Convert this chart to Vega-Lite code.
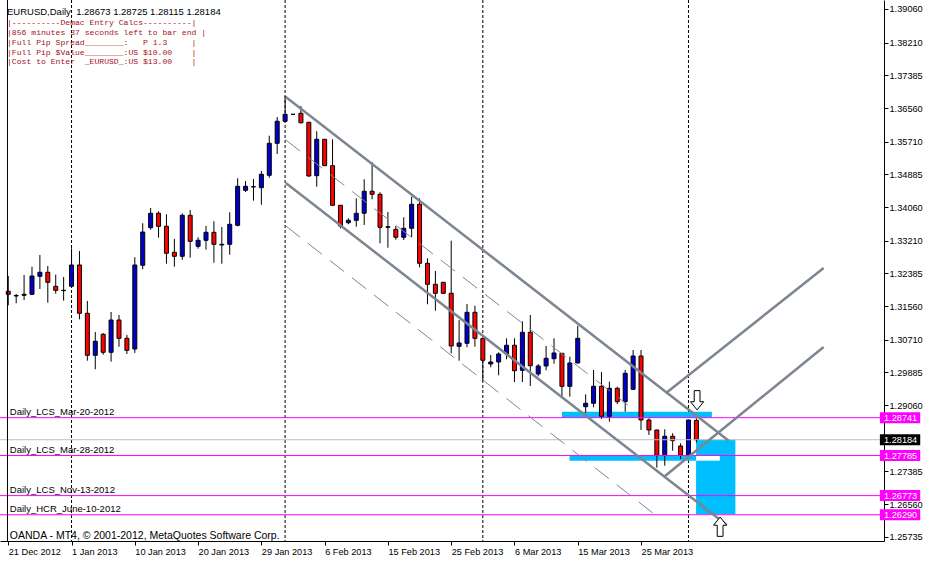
{
  "$schema": "https://vega.github.io/schema/vega-lite/v6.json",
  "width": 884,
  "height": 541,
  "autosize": {"type": "none"},
  "padding": {"left": 0, "top": 0, "right": 44, "bottom": 20},
  "background": "white",
  "config": {
    "view": {"stroke": null},
    "font": "Liberation Sans",
    "axis": {
      "labelFont": "Liberation Sans", "labelFontSize": 9.2, "labelColor": "black",
      "labelFlush": false, "labelOverlap": false, "labelBound": false,
      "tickSize": 4, "tickColor": "black", "domainColor": "black", "grid": false
    },
    "axisX": {"labelAlign": "left", "labelBaseline": "top", "labelPadding": 2},
    "axisY": {"labelPadding": 1}
  },
  "title": {
    "text": "EURUSD,Daily\u00a0\u00a01.28673 1.28725 1.28115 1.28184",
    "subtitle": [
      "|----------Demac Entry Calcs----------|",
      "|856 minutes 37 seconds left to bar end |",
      "|Full Pip Spread________:\u00a0\u00a0\u00a0P 1.3\u00a0\u00a0\u00a0\u00a0\u00a0|",
      "|Full Pip $Value________:US $10.00\u00a0\u00a0\u00a0\u00a0|",
      "|Cost to Enter\u00a0\u00a0_EURUSD_:US $13.00\u00a0\u00a0\u00a0\u00a0|"
    ],
    "anchor": "start",
    "frame": "group",
    "orient": "top",
    "offset": -67,
    "dx": 7,
    "font": "Liberation Sans",
    "fontSize": 9.5,
    "fontWeight": "normal",
    "color": "black",
    "subtitleFont": "Liberation Mono",
    "subtitleFontSize": 8.1,
    "subtitleColor": "#a8101a",
    "subtitlePadding": 3,
    "subtitleLineHeight": 9.75
  },
  "datasets": {
    "candles": [
      {"bar":0,"open":1.31932,"high":1.32318,"low":1.31579,"close":1.31856},
      {"bar":1,"open":1.31826,"high":1.31864,"low":1.31629,"close":1.31813},
      {"bar":2,"open":1.31831,"high":1.32344,"low":1.31712,"close":1.31856},
      {"bar":3,"open":1.31856,"high":1.32553,"low":1.31839,"close":1.32318},
      {"bar":4,"open":1.32311,"high":1.32849,"low":1.31990,"close":1.32412},
      {"bar":5,"open":1.32412,"high":1.32571,"low":1.31644,"close":1.32159},
      {"bar":6,"open":1.32058,"high":1.32351,"low":1.31871,"close":1.31957},
      {"bar":7,"open":1.31957,"high":1.32293,"low":1.31695,"close":1.31950},
      {"bar":8,"open":1.32058,"high":1.33018,"low":1.32028,"close":1.32596},
      {"bar":9,"open":1.32596,"high":1.32950,"low":1.31225,"close":1.31377},
      {"bar":10,"open":1.31377,"high":1.31687,"low":1.30180,"close":1.30316},
      {"bar":11,"open":1.30316,"high":1.30904,"low":1.29963,"close":1.30670},
      {"bar":12,"open":1.30846,"high":1.30879,"low":1.30331,"close":1.30392},
      {"bar":13,"open":1.30392,"high":1.31409,"low":1.30154,"close":1.31207},
      {"bar":14,"open":1.31207,"high":1.31334,"low":1.30533,"close":1.30745},
      {"bar":15,"open":1.30745,"high":1.30829,"low":1.30349,"close":1.30442},
      {"bar":16,"open":1.30475,"high":1.32791,"low":1.30374,"close":1.32596},
      {"bar":17,"open":1.32589,"high":1.33649,"low":1.32488,"close":1.33429},
      {"bar":18,"open":1.33538,"high":1.34035,"low":1.33487,"close":1.33902},
      {"bar":19,"open":1.33902,"high":1.33952,"low":1.33285,"close":1.33573},
      {"bar":20,"open":1.33573,"high":1.33876,"low":1.32629,"close":1.32892},
      {"bar":21,"open":1.32917,"high":1.33253,"low":1.32553,"close":1.32816},
      {"bar":22,"open":1.32816,"high":1.33902,"low":1.32730,"close":1.33851},
      {"bar":23,"open":1.33851,"high":1.33985,"low":1.32780,"close":1.33194},
      {"bar":24,"open":1.33068,"high":1.33296,"low":1.33008,"close":1.33220},
      {"bar":25,"open":1.33220,"high":1.33581,"low":1.32982,"close":1.33422},
      {"bar":26,"open":1.33422,"high":1.33700,"low":1.32654,"close":1.33119},
      {"bar":27,"open":1.33119,"high":1.33556,"low":1.32629,"close":1.33101},
      {"bar":28,"open":1.33119,"high":1.33927,"low":1.32856,"close":1.33624},
      {"bar":29,"open":1.33599,"high":1.34785,"low":1.33573,"close":1.34583},
      {"bar":30,"open":1.34482,"high":1.34717,"low":1.34439,"close":1.34583},
      {"bar":31,"open":1.34573,"high":1.34768,"low":1.34220,"close":1.34568},
      {"bar":32,"open":1.34548,"high":1.34970,"low":1.34119,"close":1.34886},
      {"bar":33,"open":1.34861,"high":1.35861,"low":1.34800,"close":1.35669},
      {"bar":34,"open":1.35669,"high":1.36333,"low":1.35399,"close":1.36225},
      {"bar":35,"open":1.36225,"high":1.36863,"low":1.36207,"close":1.36401},
      {"bar":36,"open":1.36401,"high":1.36405,"low":1.36398,"close":1.36401},
      {"bar":37,"open":1.36427,"high":1.36611,"low":1.36164,"close":1.36189},
      {"bar":38,"open":1.36199,"high":1.36210,"low":1.34826,"close":1.34843},
      {"bar":39,"open":1.34851,"high":1.35972,"low":1.34573,"close":1.35770},
      {"bar":40,"open":1.35770,"high":1.35780,"low":1.35095,"close":1.35103},
      {"bar":41,"open":1.35103,"high":1.35770,"low":1.34086,"close":1.34104},
      {"bar":42,"open":1.34104,"high":1.34110,"low":1.33523,"close":1.33581},
      {"bar":43,"open":1.33664,"high":1.33775,"low":1.33624,"close":1.33725},
      {"bar":44,"open":1.33725,"high":1.34280,"low":1.33563,"close":1.33902},
      {"bar":45,"open":1.33902,"high":1.34760,"low":1.33606,"close":1.34457},
      {"bar":46,"open":1.34457,"high":1.35189,"low":1.34255,"close":1.34381},
      {"bar":47,"open":1.34381,"high":1.34432,"low":1.33144,"close":1.33548},
      {"bar":48,"open":1.33548,"high":1.33934,"low":1.33033,"close":1.33563},
      {"bar":49,"open":1.33497,"high":1.33581,"low":1.33235,"close":1.33296},
      {"bar":50,"open":1.33296,"high":1.33801,"low":1.33227,"close":1.33523},
      {"bar":51,"open":1.33523,"high":1.34321,"low":1.33296,"close":1.34129},
      {"bar":52,"open":1.34129,"high":1.34280,"low":1.32538,"close":1.32639},
      {"bar":53,"open":1.32639,"high":1.32765,"low":1.31604,"close":1.32109},
      {"bar":54,"open":1.32109,"high":1.32445,"low":1.31442,"close":1.31882},
      {"bar":55,"open":1.32159,"high":1.32165,"low":1.31875,"close":1.31882},
      {"bar":56,"open":1.31882,"high":1.33210,"low":1.30367,"close":1.30551},
      {"bar":57,"open":1.30543,"high":1.31207,"low":1.30180,"close":1.30627},
      {"bar":58,"open":1.30619,"high":1.31611,"low":1.30518,"close":1.31402},
      {"bar":59,"open":1.31402,"high":1.31568,"low":1.30533,"close":1.30745},
      {"bar":60,"open":1.30740,"high":1.30750,"low":1.29667,"close":1.30190},
      {"bar":61,"open":1.30096,"high":1.30324,"low":1.30013,"close":1.30147},
      {"bar":62,"open":1.30147,"high":1.30392,"low":1.29811,"close":1.30349},
      {"bar":63,"open":1.30349,"high":1.30745,"low":1.30215,"close":1.30569},
      {"bar":64,"open":1.30569,"high":1.30745,"low":1.29642,"close":1.29927},
      {"bar":65,"open":1.29937,"high":1.31174,"low":1.29642,"close":1.30897},
      {"bar":66,"open":1.30897,"high":1.31334,"low":1.29541,"close":1.30053},
      {"bar":67,"open":1.29844,"high":1.30096,"low":1.29786,"close":1.30046},
      {"bar":68,"open":1.30046,"high":1.30551,"low":1.29937,"close":1.30240},
      {"bar":69,"open":1.30230,"high":1.30745,"low":1.30104,"close":1.30374},
      {"bar":70,"open":1.30366,"high":1.30374,"low":1.29271,"close":1.29533},
      {"bar":71,"open":1.29533,"high":1.30281,"low":1.29271,"close":1.30122},
      {"bar":72,"open":1.30122,"high":1.31063,"low":1.30115,"close":1.30745},
      {"bar":73,"open":1.29018,"high":1.29331,"low":1.28867,"close":1.29104},
      {"bar":74,"open":1.29104,"high":1.29945,"low":1.29003,"close":1.29533},
      {"bar":75,"open":1.29533,"high":1.29894,"low":1.28708,"close":1.28776},
      {"bar":76,"open":1.28776,"high":1.29649,"low":1.28639,"close":1.29483},
      {"bar":77,"open":1.29483,"high":1.29523,"low":1.29086,"close":1.29144},
      {"bar":78,"open":1.29144,"high":1.29945,"low":1.28892,"close":1.29861},
      {"bar":79,"open":1.29458,"high":1.30450,"low":1.29440,"close":1.30298},
      {"bar":80,"open":1.30298,"high":1.30450,"low":1.28430,"close":1.28682},
      {"bar":81,"open":1.28682,"high":1.28725,"low":1.28304,"close":1.28430},
      {"bar":82,"open":1.28430,"high":1.28436,"low":1.27478,"close":1.27799},
      {"bar":83,"open":1.27799,"high":1.28447,"low":1.27528,"close":1.28271},
      {"bar":84,"open":1.28271,"high":1.28347,"low":1.27907,"close":1.28160},
      {"bar":85,"open":1.28026,"high":1.28094,"low":1.27698,"close":1.27799},
      {"bar":86,"open":1.27799,"high":1.28690,"low":1.27785,"close":1.28682},
      {"bar":87,"open":1.28673,"high":1.28725,"low":1.28115,"close":1.28184}
    ],
    "separators": [{"bar":8},{"bar":35},{"bar":60},{"bar":86}],
    "levels": [
      {"price":1.28741,"kind":"level","label":"Daily_LCS_Mar-20-2012"},
      {"price":1.28184,"kind":"current","label":""},
      {"price":1.27785,"kind":"level","label":"Daily_LCS_Mar-28-2012"},
      {"price":1.26773,"kind":"level","label":"Daily_LCS_Nov-13-2012"},
      {"price":1.26290,"kind":"level","label":"Daily_HCR_June-10-2012"}
    ],
    "zones": [
      {"from":70.0,"to":88.96,"lo":1.28741,"hi":1.28892,"kind":"zone"},
      {"from":70.96,"to":86.96,"lo":1.27655,"hi":1.27785,"kind":"zone"},
      {"from":86.96,"to":91.93,"lo":1.26300,"hi":1.28184,"kind":"zone"},
      {"from":86.96,"to":89.96,"lo":1.27655,"hi":1.27785,"kind":"overlap"}
    ],
    "channel": [
      {"name":"upper","bar":35.09,"price":1.36838},{"name":"upper","bar":91.09,"price":1.28160},
      {"name":"lower","bar":35.09,"price":1.34667},{"name":"lower","bar":90.84,"price":1.26031},
      {"name":"rise1","bar":83.13,"price":1.29357},{"name":"rise1","bar":103.09,"price":1.32520},
      {"name":"rise2","bar":82.92,"price":1.27251},{"name":"rise2","bar":103.09,"price":1.30526}
    ],
    "dashed": [
      {"name":"mid","bar":35.09,"price":1.35752},{"name":"mid","bar":78.34,"price":1.29061},
      {"name":"low","bar":35.09,"price":1.33581},{"name":"low","bar":82.09,"price":1.26241}
    ],
    "arrows": [
      {"dir":"down","bar":87.09,"price":1.29180},
      {"dir":"up","bar":90.0,"price":1.25988}
    ]
  },
  "layer": [
    {
      "data": {"name": "separators"},
      "mark": {"type": "rule", "color": "black", "strokeWidth": 1, "strokeDash": [3, 2]},
      "encoding": {
        "x": {
          "field": "bar", "type": "quantitative", "title": null,
          "scale": {"domain": [-0.4125, 110.0875], "nice": false, "zero": false},
          "axis": {"values": [0, 8, 16, 24, 32, 40, 48, 56, 64, 72, 80], "labelExpr": "['21 Dec 2012','1 Jan 2013','10 Jan 2013','20 Jan 2013','29 Jan 2013','6 Feb 2013','15 Feb 2013','25 Feb 2013','6 Mar 2013','15 Mar 2013','25 Mar 2013'][round(datum.value/8)]"}
        }
      }
    },
    {
      "data": {"name": "zones"},
      "mark": {"type": "rect"},
      "encoding": {
        "x": {"field": "from", "type": "quantitative", "title": null, "scale": {"domain": [-0.4125, 110.0875], "nice": false, "zero": false},
          "axis": {"values": [0, 8, 16, 24, 32, 40, 48, 56, 64, 72, 80], "labelExpr": "['21 Dec 2012','1 Jan 2013','10 Jan 2013','20 Jan 2013','29 Jan 2013','6 Feb 2013','15 Feb 2013','25 Feb 2013','6 Mar 2013','15 Mar 2013','25 Mar 2013'][round(datum.value/8)]"}},
        "x2": {"field": "to"},
        "y": {"field": "lo", "type": "quantitative", "title": null, "scale": {"domain": [1.25627, 1.39287], "nice": false, "zero": false},
          "axis": {"orient": "right", "format": ".5f", "values": [1.3906, 1.3821, 1.37385, 1.3656, 1.3571, 1.34885, 1.3406, 1.3321, 1.32385, 1.3156, 1.3071, 1.29885, 1.2906, 1.27385, 1.2656, 1.25735]}},
        "y2": {"field": "hi"},
        "fill": {"condition": {"test": "datum.kind == 'overlap'", "value": "#ffffff"}, "value": "#00bfff"}
      }
    },
    {
      "data": {"name": "candles"},
      "mark": {"type": "rule", "color": "black", "strokeWidth": 1},
      "encoding": {
        "x": {"field": "bar", "type": "quantitative", "title": null, "scale": {"domain": [-0.4125, 110.0875], "nice": false, "zero": false},
          "axis": {"values": [0, 8, 16, 24, 32, 40, 48, 56, 64, 72, 80], "labelExpr": "['21 Dec 2012','1 Jan 2013','10 Jan 2013','20 Jan 2013','29 Jan 2013','6 Feb 2013','15 Feb 2013','25 Feb 2013','6 Mar 2013','15 Mar 2013','25 Mar 2013'][round(datum.value/8)]"}},
        "y": {"field": "low", "type": "quantitative", "title": null, "scale": {"domain": [1.25627, 1.39287], "nice": false, "zero": false},
          "axis": {"orient": "right", "format": ".5f", "values": [1.3906, 1.3821, 1.37385, 1.3656, 1.3571, 1.34885, 1.3406, 1.3321, 1.32385, 1.3156, 1.3071, 1.29885, 1.2906, 1.27385, 1.2656, 1.25735]}},
        "y2": {"field": "high"}
      }
    },
    {
      "data": {"name": "candles"},
      "mark": {"type": "bar", "orient": "vertical", "size": 4, "stroke": "black", "strokeWidth": 1},
      "encoding": {
        "x": {"field": "bar", "type": "quantitative", "title": null, "scale": {"domain": [-0.4125, 110.0875], "nice": false, "zero": false},
          "axis": {"values": [0, 8, 16, 24, 32, 40, 48, 56, 64, 72, 80], "labelExpr": "['21 Dec 2012','1 Jan 2013','10 Jan 2013','20 Jan 2013','29 Jan 2013','6 Feb 2013','15 Feb 2013','25 Feb 2013','6 Mar 2013','15 Mar 2013','25 Mar 2013'][round(datum.value/8)]"}},
        "y": {"field": "open", "type": "quantitative", "title": null, "scale": {"domain": [1.25627, 1.39287], "nice": false, "zero": false},
          "axis": {"orient": "right", "format": ".5f", "values": [1.3906, 1.3821, 1.37385, 1.3656, 1.3571, 1.34885, 1.3406, 1.3321, 1.32385, 1.3156, 1.3071, 1.29885, 1.2906, 1.27385, 1.2656, 1.25735]}},
        "y2": {"field": "close"},
        "fill": {"condition": {"test": "datum.close >= datum.open", "value": "#0000cd"}, "value": "#ff0000"}
      }
    },
    {
      "data": {"name": "levels"},
      "mark": {"type": "rule", "strokeWidth": 1},
      "encoding": {
        "y": {"field": "price", "type": "quantitative", "title": null, "scale": {"domain": [1.25627, 1.39287], "nice": false, "zero": false},
          "axis": {"orient": "right", "format": ".5f", "values": [1.3906, 1.3821, 1.37385, 1.3656, 1.3571, 1.34885, 1.3406, 1.3321, 1.32385, 1.3156, 1.3071, 1.29885, 1.2906, 1.27385, 1.2656, 1.25735]}},
        "stroke": {"condition": {"test": "datum.kind == 'current'", "value": "#c0c0c0"}, "value": "#ff00ff"}
      }
    },
    {
      "data": {"name": "channel"},
      "mark": {"type": "line", "color": "#7d8591", "strokeWidth": 2.5},
      "encoding": {
        "x": {"field": "bar", "type": "quantitative", "title": null, "scale": {"domain": [-0.4125, 110.0875], "nice": false, "zero": false},
          "axis": {"values": [0, 8, 16, 24, 32, 40, 48, 56, 64, 72, 80], "labelExpr": "['21 Dec 2012','1 Jan 2013','10 Jan 2013','20 Jan 2013','29 Jan 2013','6 Feb 2013','15 Feb 2013','25 Feb 2013','6 Mar 2013','15 Mar 2013','25 Mar 2013'][round(datum.value/8)]"}},
        "y": {"field": "price", "type": "quantitative", "title": null, "scale": {"domain": [1.25627, 1.39287], "nice": false, "zero": false},
          "axis": {"orient": "right", "format": ".5f", "values": [1.3906, 1.3821, 1.37385, 1.3656, 1.3571, 1.34885, 1.3406, 1.3321, 1.32385, 1.3156, 1.3071, 1.29885, 1.2906, 1.27385, 1.2656, 1.25735]}},
        "detail": {"field": "name"}
      }
    },
    {
      "data": {"name": "dashed"},
      "mark": {"type": "line", "color": "#7d8591", "strokeWidth": 1, "strokeDash": [18, 10]},
      "encoding": {
        "x": {"field": "bar", "type": "quantitative", "title": null, "scale": {"domain": [-0.4125, 110.0875], "nice": false, "zero": false},
          "axis": {"values": [0, 8, 16, 24, 32, 40, 48, 56, 64, 72, 80], "labelExpr": "['21 Dec 2012','1 Jan 2013','10 Jan 2013','20 Jan 2013','29 Jan 2013','6 Feb 2013','15 Feb 2013','25 Feb 2013','6 Mar 2013','15 Mar 2013','25 Mar 2013'][round(datum.value/8)]"}},
        "y": {"field": "price", "type": "quantitative", "title": null, "scale": {"domain": [1.25627, 1.39287], "nice": false, "zero": false},
          "axis": {"orient": "right", "format": ".5f", "values": [1.3906, 1.3821, 1.37385, 1.3656, 1.3571, 1.34885, 1.3406, 1.3321, 1.32385, 1.3156, 1.3071, 1.29885, 1.2906, 1.27385, 1.2656, 1.25735]}},
        "detail": {"field": "name"}
      }
    },
    {
      "data": {"name": "levels"},
      "transform": [{"filter": "datum.label != ''"}],
      "mark": {"type": "text", "align": "left", "baseline": "alphabetic", "dy": -3, "font": "Liberation Sans", "fontSize": 9.5, "color": "black"},
      "encoding": {
        "x": {"datum": 0.2, "type": "quantitative", "title": null, "scale": {"domain": [-0.4125, 110.0875], "nice": false, "zero": false},
          "axis": {"values": [0, 8, 16, 24, 32, 40, 48, 56, 64, 72, 80], "labelExpr": "['21 Dec 2012','1 Jan 2013','10 Jan 2013','20 Jan 2013','29 Jan 2013','6 Feb 2013','15 Feb 2013','25 Feb 2013','6 Mar 2013','15 Mar 2013','25 Mar 2013'][round(datum.value/8)]"}},
        "y": {"field": "price", "type": "quantitative", "title": null, "scale": {"domain": [1.25627, 1.39287], "nice": false, "zero": false},
          "axis": {"orient": "right", "format": ".5f", "values": [1.3906, 1.3821, 1.37385, 1.3656, 1.3571, 1.34885, 1.3406, 1.3321, 1.32385, 1.3156, 1.3071, 1.29885, 1.2906, 1.27385, 1.2656, 1.25735]}},
        "text": {"field": "label"}
      }
    },
    {
      "data": {"name": "levels"},
      "mark": {"type": "rule", "strokeWidth": 11, "strokeCap": "butt"},
      "encoding": {
        "x": {"datum": 110.2, "type": "quantitative", "title": null, "scale": {"domain": [-0.4125, 110.0875], "nice": false, "zero": false},
          "axis": {"values": [0, 8, 16, 24, 32, 40, 48, 56, 64, 72, 80], "labelExpr": "['21 Dec 2012','1 Jan 2013','10 Jan 2013','20 Jan 2013','29 Jan 2013','6 Feb 2013','15 Feb 2013','25 Feb 2013','6 Mar 2013','15 Mar 2013','25 Mar 2013'][round(datum.value/8)]"}},
        "x2": {"datum": 115.3},
        "y": {"field": "price", "type": "quantitative", "title": null, "scale": {"domain": [1.25627, 1.39287], "nice": false, "zero": false},
          "axis": {"orient": "right", "format": ".5f", "values": [1.3906, 1.3821, 1.37385, 1.3656, 1.3571, 1.34885, 1.3406, 1.3321, 1.32385, 1.3156, 1.3071, 1.29885, 1.2906, 1.27385, 1.2656, 1.25735]}},
        "stroke": {"condition": {"test": "datum.kind == 'current'", "value": "#000000"}, "value": "#ff00ff"}
      }
    },
    {
      "data": {"name": "levels"},
      "mark": {"type": "text", "align": "left", "baseline": "middle", "font": "Liberation Sans", "fontSize": 9.2, "color": "white"},
      "encoding": {
        "x": {"datum": 110.72, "type": "quantitative", "title": null, "scale": {"domain": [-0.4125, 110.0875], "nice": false, "zero": false},
          "axis": {"values": [0, 8, 16, 24, 32, 40, 48, 56, 64, 72, 80], "labelExpr": "['21 Dec 2012','1 Jan 2013','10 Jan 2013','20 Jan 2013','29 Jan 2013','6 Feb 2013','15 Feb 2013','25 Feb 2013','6 Mar 2013','15 Mar 2013','25 Mar 2013'][round(datum.value/8)]"}},
        "y": {"field": "price", "type": "quantitative", "title": null, "scale": {"domain": [1.25627, 1.39287], "nice": false, "zero": false},
          "axis": {"orient": "right", "format": ".5f", "values": [1.3906, 1.3821, 1.37385, 1.3656, 1.3571, 1.34885, 1.3406, 1.3321, 1.32385, 1.3156, 1.3071, 1.29885, 1.2906, 1.27385, 1.2656, 1.25735]}},
        "text": {"field": "price", "type": "quantitative", "format": ".5f"}
      }
    },
    {
      "data": {"name": "arrows"},
      "mark": {"type": "point", "filled": true, "fill": "white", "stroke": "black", "strokeWidth": 1, "opacity": 1, "size": 372},
      "encoding": {
        "x": {"field": "bar", "type": "quantitative", "title": null, "scale": {"domain": [-0.4125, 110.0875], "nice": false, "zero": false},
          "axis": {"values": [0, 8, 16, 24, 32, 40, 48, 56, 64, 72, 80], "labelExpr": "['21 Dec 2012','1 Jan 2013','10 Jan 2013','20 Jan 2013','29 Jan 2013','6 Feb 2013','15 Feb 2013','25 Feb 2013','6 Mar 2013','15 Mar 2013','25 Mar 2013'][round(datum.value/8)]"}},
        "y": {"field": "price", "type": "quantitative", "title": null, "scale": {"domain": [1.25627, 1.39287], "nice": false, "zero": false},
          "axis": {"orient": "right", "format": ".5f", "values": [1.3906, 1.3821, 1.37385, 1.3656, 1.3571, 1.34885, 1.3406, 1.3321, 1.32385, 1.3156, 1.3071, 1.29885, 1.2906, 1.27385, 1.2656, 1.25735]}},
        "shape": {
          "field": "dir", "type": "nominal", "legend": null,
          "scale": {"domain": ["down", "up"], "range": [
            "M -0.3 -1 L 0.3 -1 L 0.3 0.15 L 0.68 0.15 L 0 1 L -0.68 0.15 L -0.3 0.15 Z",
            "M -0.3 1 L 0.3 1 L 0.3 -0.15 L 0.68 -0.15 L 0 -1 L -0.68 -0.15 L -0.3 -0.15 Z"
          ]}
        }
      }
    },
    {
      "data": {"values": [{"edge": "left"}]},
      "mark": {"type": "rule", "color": "black", "strokeWidth": 1},
      "encoding": {
        "x": {"datum": -0.1, "type": "quantitative", "title": null, "scale": {"domain": [-0.4125, 110.0875], "nice": false, "zero": false},
          "axis": {"values": [0, 8, 16, 24, 32, 40, 48, 56, 64, 72, 80], "labelExpr": "['21 Dec 2012','1 Jan 2013','10 Jan 2013','20 Jan 2013','29 Jan 2013','6 Feb 2013','15 Feb 2013','25 Feb 2013','6 Mar 2013','15 Mar 2013','25 Mar 2013'][round(datum.value/8)]"}}
      }
    },
    {
      "data": {"values": [{"note": "OANDA - MT4, \u00a9 2001-2012, MetaQuotes Software Corp."}]},
      "mark": {"type": "text", "align": "left", "baseline": "alphabetic", "font": "Liberation Sans", "fontSize": 10.5, "color": "black"},
      "encoding": {
        "x": {"datum": 0.2, "type": "quantitative", "title": null, "scale": {"domain": [-0.4125, 110.0875], "nice": false, "zero": false},
          "axis": {"values": [0, 8, 16, 24, 32, 40, 48, 56, 64, 72, 80], "labelExpr": "['21 Dec 2012','1 Jan 2013','10 Jan 2013','20 Jan 2013','29 Jan 2013','6 Feb 2013','15 Feb 2013','25 Feb 2013','6 Mar 2013','15 Mar 2013','25 Mar 2013'][round(datum.value/8)]"}},
        "y": {"datum": 1.25678, "type": "quantitative", "title": null, "scale": {"domain": [1.25627, 1.39287], "nice": false, "zero": false},
          "axis": {"orient": "right", "format": ".5f", "values": [1.3906, 1.3821, 1.37385, 1.3656, 1.3571, 1.34885, 1.3406, 1.3321, 1.32385, 1.3156, 1.3071, 1.29885, 1.2906, 1.27385, 1.2656, 1.25735]}},
        "text": {"field": "note"}
      }
    }
  ]
}
